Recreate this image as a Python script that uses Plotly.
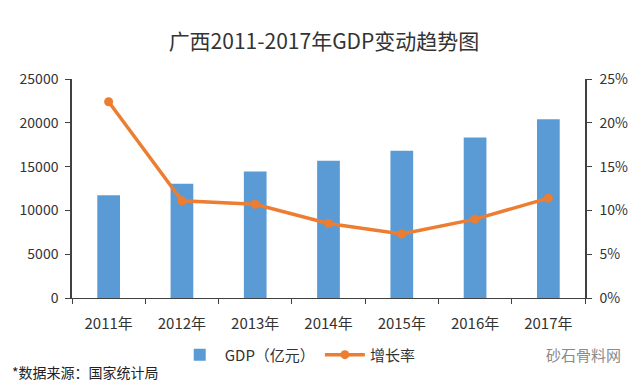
import plotly.graph_objects as go

years = ["2011年", "2012年", "2013年", "2014年", "2015年", "2016年", "2017年"]
gdp = [11720, 13035, 14449, 15673, 16803, 18318, 20396]
growth = [0.224, 0.111, 0.107, 0.085, 0.073, 0.090, 0.114]

font_family = "Noto Sans CJK SC, Noto Sans, sans-serif"
axis_color = "#404040"

fig = go.Figure()
fig.add_trace(go.Bar(
    x=years, y=gdp, name="GDP（亿元）",
    marker=dict(color="#5B9BD5", line=dict(width=0)),
    yaxis="y",
))
fig.add_trace(go.Scatter(
    x=years, y=growth, name="增长率", mode="lines+markers",
    line=dict(color="#ED7D31", width=3.5),
    marker=dict(color="#ED7D31", size=9),
    yaxis="y2",
))

fig.update_layout(
    width=632, height=381,
    margin=dict(l=63, r=49, t=71, b=91),
    paper_bgcolor="white", plot_bgcolor="white",
    font=dict(family=font_family, size=13, color=axis_color),
    title=dict(text="广西2011-2017年GDP变动趋势图", x=0.5, xanchor="center",
               y=0.911, yanchor="middle",
               font=dict(size=21, color="#333333", family=font_family)),
    bargap=0.69,
    showlegend=True,
    legend=dict(orientation="h", x=0.44, xanchor="center", y=-0.26, yanchor="middle",
                font=dict(size=15, color="#333333"), itemwidth=40,
                traceorder="normal"),
    xaxis=dict(type="category", showline=True, linecolor=axis_color, linewidth=1,
               ticks="outside", tickson="boundaries", ticklen=5, tickcolor=axis_color,
               showgrid=False, ticklabelstandoff=12,
               tickfont=dict(size=15, color="#333333")),
    yaxis=dict(range=[0, 25000], dtick=5000, tickformat="d", showline=True,
               linecolor=axis_color, linewidth=1.5, ticks="outside", ticklen=5,
               tickcolor=axis_color, showgrid=False, zeroline=False,
               ticklabelstandoff=4,
               tickfont=dict(size=14, color="#333333")),
    yaxis2=dict(range=[0, 0.25], dtick=0.05, tickformat=".0%", overlaying="y",
                side="right", showline=True, linecolor=axis_color, linewidth=1.5,
                ticks="outside", ticklen=5, tickcolor=axis_color, showgrid=False,
                zeroline=False, ticklabelstandoff=5,
                tickfont=dict(size=14, color="#333333")),
    annotations=[
        dict(text="*数据来源：国家统计局", xref="paper", yref="paper",
             x=-0.121, y=-0.338, xanchor="left", yanchor="middle", showarrow=False,
             font=dict(size=14, color="#222222")),
        dict(text="砂石骨料网", xref="paper", yref="paper",
             x=1.075, y=-0.26, xanchor="right", yanchor="middle", showarrow=False,
             font=dict(size=15, color="#8a8a8a")),
    ],
)

fig.write_html("out.html")
